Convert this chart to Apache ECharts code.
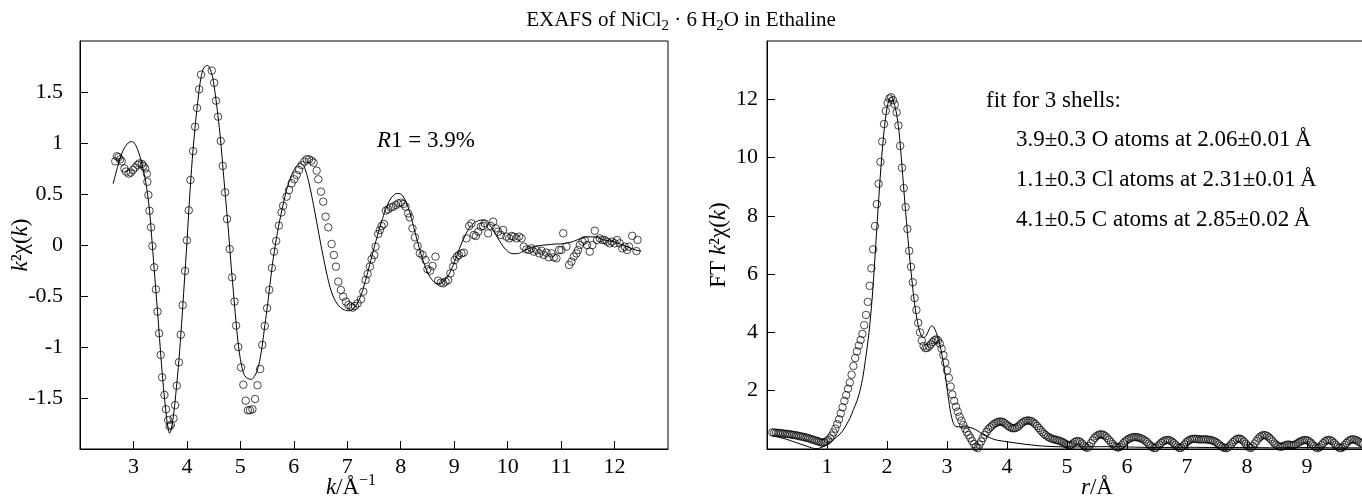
<!DOCTYPE html>
<html><head><meta charset="utf-8">
<script src="https://cdn.jsdelivr.net/npm/echarts@6/dist/echarts.min.js"></script>
<style>html,body{margin:0;padding:0;background:#fff}#c{width:1362px;height:499px}</style>
</head><body><div id="c"></div>
<script>
// ---- data ----
const kData = [[2.66,0.82],[2.69,0.87],[2.72,0.86],[2.75,0.84],[2.78,0.82],[2.83,0.75],[2.86,0.72],[2.91,0.70],[2.95,0.71],[2.99,0.735],[3.03,0.76],[3.075,0.785],[3.11,0.80],[3.157,0.794],[3.187,0.775],[3.22,0.75],[3.25,0.70],[3.26,0.62],[3.28,0.49],[3.30,0.336],[3.33,0.173],[3.355,-0.01],[3.387,-0.219],[3.42,-0.435],[3.45,-0.653],[3.48,-0.866],[3.51,-1.078],[3.536,-1.297],[3.58,-1.47],[3.61,-1.61],[3.65,-1.716],[3.675,-1.775],[3.70,-1.765],[3.75,-1.70],[3.78,-1.57],[3.81,-1.38],[3.85,-1.15],[3.886,-0.88],[3.92,-0.59],[3.966,-0.255],[4.0,0.046],[4.035,0.34],[4.066,0.637],[4.116,0.92],[4.153,1.16],[4.19,1.343],[4.23,1.526],[4.265,1.67],[4.465,1.71],[4.51,1.59],[4.545,1.415],[4.583,1.258],[4.633,1.02],[4.67,0.775],[4.714,0.516],[4.75,0.255],[4.80,-0.04],[4.845,-0.317],[4.89,-0.555],[4.92,-0.79],[4.96,-1.0],[5.013,-1.20],[5.056,-1.37],[5.10,-1.526],[5.14,-1.62],[5.18,-1.62],[5.225,-1.61],[5.275,-1.51],[5.32,-1.375],[5.37,-1.216],[5.41,-0.98],[5.456,-0.794],[5.50,-0.62],[5.54,-0.44],[5.59,-0.225],[5.63,-0.065],[5.67,0.04],[5.72,0.19],[5.77,0.32],[5.80,0.385],[5.866,0.474],[5.91,0.539],[5.96,0.605],[6.01,0.644],[6.053,0.686],[6.097,0.735],[6.147,0.784],[6.196,0.817],[6.24,0.84],[6.284,0.84],[6.33,0.827],[6.37,0.807],[6.427,0.729],[6.458,0.644],[6.508,0.523],[6.55,0.425],[6.595,0.278],[6.645,0.173],[6.707,0.01],[6.75,-0.098],[6.788,-0.212],[6.832,-0.359],[6.88,-0.441],[6.925,-0.506],[6.975,-0.555],[7.02,-0.588],[7.062,-0.604],[7.1,-0.614],[7.143,-0.598],[7.193,-0.572],[7.255,-0.533],[7.3,-0.457],[7.343,-0.343],[7.38,-0.284],[7.424,-0.212],[7.455,-0.14],[7.505,-0.098],[7.53,-0.016],[7.58,0.108],[7.61,0.147],[7.642,0.186],[7.685,0.206],[7.723,0.337],[7.766,0.35],[7.816,0.369],[7.86,0.376],[7.91,0.392],[7.953,0.408],[8.003,0.415],[8.047,0.402],[8.09,0.376],[8.14,0.31],[8.17,0.271],[8.22,0.163],[8.265,0.075],[8.315,-0.01],[8.358,-0.082],[8.408,-0.098],[8.464,-0.147],[8.5,-0.238],[8.55,-0.252],[8.595,-0.206],[8.65,-0.114],[8.7,-0.35],[8.75,-0.37],[8.795,-0.376],[8.838,-0.359],[8.888,-0.343],[8.93,-0.278],[8.98,-0.212],[9.01,-0.147],[9.05,-0.114],[9.087,-0.098],[9.137,-0.082],[9.18,-0.075],[9.23,0.065],[9.28,0.186],[9.325,0.212],[9.368,0.098],[9.405,0.088],[9.45,0.131],[9.5,0.18],[9.542,0.186],[9.573,0.212],[9.635,0.114],[9.685,0.186],[9.73,0.229],[9.78,0.163],[9.823,0.131],[9.873,0.098],[9.916,0.147],[9.978,0.082],[10.03,0.065],[10.072,0.088],[10.115,0.082],[10.165,0.065],[10.215,0.082],[10.26,0.065],[10.302,-0.016],[10.35,-0.042],[10.4,-0.049],[10.446,-0.033],[10.49,-0.065],[10.54,-0.049],[10.59,-0.082],[10.633,-0.056],[10.676,-0.098],[10.726,-0.075],[10.77,-0.121],[10.82,-0.082],[10.863,-0.121],[10.913,-0.13],[10.963,-0.049],[11.006,-0.049],[11.04,0.115],[11.1,-0.016],[11.15,-0.196],[11.193,-0.163],[11.237,-0.114],[11.287,-0.082],[11.318,-0.049],[11.35,0.0],[11.4,0.033],[11.443,0.049],[11.486,0.0],[11.536,-0.065],[11.586,0.0],[11.63,0.14],[11.673,0.049],[11.723,0.065],[11.773,0.049],[11.816,0.049],[11.86,0.033],[11.91,0.016],[11.953,0.033],[12.003,0.016],[12.047,0.049],[12.097,0.016],[12.146,-0.033],[12.19,-0.016],[12.234,-0.049],[12.27,-0.016],[12.33,0.09],[12.41,-0.06],[12.43,0.05]];

const kFit = [[2.62,0.60],[2.70,0.76],[2.80,0.92],[2.90,1.00],[2.98,1.015],[3.05,0.97],[3.12,0.87],[3.20,0.70],[3.25,0.55],[3.30,0.34],[3.35,0.02],[3.40,-0.32],[3.45,-0.65],[3.50,-1.0],[3.55,-1.33],[3.60,-1.60],[3.64,-1.77],[3.675,-1.845],[3.71,-1.80],[3.76,-1.62],[3.80,-1.42],[3.85,-1.13],[3.90,-0.78],[3.95,-0.38],[4.00,0.02],[4.05,0.46],[4.10,0.84],[4.15,1.14],[4.20,1.39],[4.25,1.60],[4.30,1.72],[4.35,1.755],[4.39,1.76],[4.43,1.73],[4.48,1.65],[4.53,1.48],[4.58,1.27],[4.63,1.03],[4.68,0.72],[4.73,0.42],[4.78,0.12],[4.83,-0.22],[4.88,-0.52],[4.93,-0.82],[4.98,-1.05],[5.03,-1.20],[5.08,-1.28],[5.14,-1.31],[5.21,-1.317],[5.26,-1.29],[5.31,-1.24],[5.36,-1.14],[5.41,-0.98],[5.46,-0.78],[5.51,-0.58],[5.56,-0.36],[5.61,-0.15],[5.66,0.02],[5.71,0.17],[5.76,0.30],[5.81,0.42],[5.86,0.53],[5.91,0.62],[5.96,0.69],[6.02,0.75],[6.08,0.79],[6.13,0.80],[6.19,0.77],[6.25,0.68],[6.32,0.52],[6.38,0.36],[6.44,0.19],[6.50,0.02],[6.56,-0.14],[6.62,-0.29],[6.68,-0.42],[6.75,-0.52],[6.83,-0.59],[6.92,-0.63],[7.02,-0.645],[7.10,-0.63],[7.18,-0.58],[7.26,-0.49],[7.34,-0.35],[7.42,-0.19],[7.50,-0.03],[7.58,0.12],[7.66,0.26],[7.74,0.38],[7.82,0.46],[7.90,0.50],[7.97,0.505],[8.04,0.48],[8.10,0.42],[8.17,0.32],[8.24,0.18],[8.31,0.04],[8.38,-0.09],[8.45,-0.20],[8.52,-0.29],[8.60,-0.35],[8.68,-0.38],[8.75,-0.375],[8.82,-0.35],[8.90,-0.29],[8.98,-0.20],[9.06,-0.09],[9.14,0.02],[9.22,0.11],[9.30,0.18],[9.38,0.22],[9.46,0.24],[9.54,0.245],[9.62,0.22],[9.70,0.17],[9.78,0.10],[9.86,0.03],[9.94,-0.03],[10.02,-0.07],[10.10,-0.085],[10.18,-0.085],[10.26,-0.07],[10.34,-0.05],[10.42,-0.03],[10.50,-0.015],[10.60,-0.005],[10.70,0.0],[10.80,0.005],[10.90,0.01],[11.00,0.01],[11.10,0.02],[11.20,0.03],[11.30,0.05],[11.40,0.07],[11.50,0.08],[11.60,0.08],[11.70,0.07],[11.80,0.05],[11.90,0.04],[12.00,0.03],[12.10,0.01],[12.20,-0.01],[12.30,-0.03],[12.40,-0.05],[12.50,-0.06]];

const ftData = [[0.09,0.57],[0.12,0.56],[0.15,0.56],[0.18,0.55],[0.21,0.55],[0.24,0.54],[0.27,0.53],[0.30,0.52],[0.33,0.52],[0.36,0.51],
[0.39,0.50],[0.42,0.49],[0.45,0.48],[0.48,0.47],[0.51,0.46],[0.54,0.44],[0.57,0.43],[0.60,0.42],[0.63,0.40],[0.66,0.39],
[0.69,0.37],[0.72,0.35],[0.75,0.33],[0.78,0.31],[0.81,0.29],[0.84,0.27],[0.87,0.25],[0.90,0.23],[0.93,0.22],[0.96,0.23],
[0.99,0.26],[1.02,0.31],[1.05,0.37],[1.08,0.46],[1.11,0.57],[1.14,0.70],[1.17,0.85],[1.20,1.02],[1.23,1.22],[1.26,1.43],
[1.29,1.65],[1.32,1.85],[1.35,2.07],[1.38,2.28],[1.41,2.55],[1.44,2.85],[1.47,3.12],[1.50,3.35],[1.53,3.55],[1.56,3.74],
[1.59,3.95],[1.62,4.25],[1.65,4.6],[1.68,5.05],[1.71,5.6],[1.74,6.2],[1.77,6.85],[1.80,7.65],[1.83,8.4],[1.86,9.1],
[1.89,9.85],[1.92,10.55],[1.95,11.15],[1.98,11.6],[2.01,11.88],[2.04,12.03],[2.07,12.07],[2.10,11.97],[2.13,11.82],[2.16,11.55],
[2.19,11.1],[2.22,10.4],[2.25,9.65],[2.28,8.95],[2.31,8.3],[2.34,7.55],[2.37,6.8],[2.40,6.25],[2.43,5.72],[2.46,5.18],
[2.49,4.77],[2.52,4.33],[2.55,4.0],[2.58,3.72],[2.61,3.54],[2.64,3.46],[2.67,3.47],[2.70,3.52],[2.73,3.59],[2.76,3.67],
[2.79,3.73],[2.82,3.76],[2.85,3.73],[2.88,3.62],[2.91,3.44],[2.94,3.22],[2.97,2.96],[3.00,2.70],[3.03,2.44],[3.06,2.14],
[3.09,1.87],[3.12,1.65],[3.15,1.45],[3.18,1.28],[3.21,1.11],[3.24,0.97],[3.27,0.83],[3.30,0.70],[3.33,0.58],[3.36,0.48],
[3.39,0.38],[3.42,0.27],[3.45,0.17],[3.48,0.07],[3.51,0.03],[3.54,0.15],[3.57,0.26],[3.60,0.38],[3.63,0.49],[3.66,0.59],
[3.69,0.68],[3.72,0.74],[3.75,0.80],[3.78,0.85],[3.81,0.89],[3.84,0.92],[3.87,0.94],[3.90,0.94],[3.93,0.93],[3.96,0.89],
[3.99,0.84],[4.02,0.79],[4.05,0.75],[4.08,0.72],[4.11,0.71],[4.14,0.72],[4.17,0.75],[4.20,0.80],[4.23,0.86],[4.26,0.91],
[4.29,0.95],[4.32,0.97],[4.35,0.98],[4.38,0.97],[4.41,0.95],[4.44,0.91],[4.47,0.86],[4.50,0.79],[4.53,0.72],[4.56,0.65],
[4.59,0.58],[4.62,0.52],[4.65,0.47],[4.68,0.42],[4.71,0.39],[4.74,0.36],[4.77,0.34],[4.80,0.32],[4.83,0.31],[4.86,0.29],
[4.89,0.27],[4.92,0.24],[4.95,0.21],[4.98,0.17],[5.01,0.14],[5.04,0.12],[5.07,0.14],[5.10,0.19],[5.13,0.24],[5.16,0.27],
[5.19,0.27],[5.22,0.24],[5.25,0.19],[5.28,0.12],[5.31,0.06],[5.34,0.04],[5.37,0.10],[5.40,0.20],[5.43,0.30],[5.46,0.38],
[5.49,0.44],[5.52,0.48],[5.55,0.50],[5.58,0.50],[5.61,0.48],[5.64,0.44],[5.67,0.38],[5.70,0.31],[5.73,0.24],[5.76,0.17],
[5.79,0.11],[5.82,0.07],[5.85,0.05],[5.88,0.07],[5.91,0.13],[5.94,0.20],[5.97,0.26],[6.00,0.31],[6.03,0.35],[6.06,0.38],
[6.09,0.40],[6.12,0.41],[6.15,0.41],[6.18,0.40],[6.21,0.38],[6.24,0.36],[6.27,0.33],[6.30,0.29],[6.33,0.24],[6.36,0.18],
[6.39,0.12],[6.42,0.07],[6.45,0.03],[6.48,0.04],[6.51,0.09],[6.54,0.15],[6.57,0.21],[6.60,0.26],[6.63,0.29],[6.66,0.31],
[6.69,0.31],[6.72,0.29],[6.75,0.25],[6.78,0.20],[6.81,0.14],[6.84,0.08],[6.87,0.04],[6.90,0.04],[6.93,0.09],[6.96,0.16],
[6.99,0.23],[7.02,0.28],[7.05,0.32],[7.08,0.34],[7.11,0.35],[7.14,0.35],[7.17,0.34],[7.20,0.33],[7.23,0.33],[7.26,0.33],
[7.29,0.33],[7.32,0.33],[7.35,0.32],[7.38,0.31],[7.41,0.30],[7.44,0.28],[7.47,0.25],[7.50,0.21],[7.53,0.16],[7.56,0.11],
[7.59,0.07],[7.62,0.04],[7.65,0.03],[7.68,0.05],[7.71,0.10],[7.74,0.17],[7.77,0.24],[7.80,0.30],[7.83,0.34],[7.86,0.36],
[7.89,0.35],[7.92,0.31],[7.95,0.25],[7.98,0.18],[8.01,0.11],[8.04,0.05],[8.07,0.04],[8.10,0.10],[8.13,0.19],[8.16,0.28],
[8.19,0.36],[8.22,0.42],[8.25,0.46],[8.28,0.48],[8.31,0.47],[8.34,0.44],[8.37,0.39],[8.40,0.33],[8.43,0.26],[8.46,0.19],
[8.49,0.14],[8.52,0.10],[8.55,0.08],[8.58,0.08],[8.61,0.10],[8.64,0.13],[8.67,0.15],[8.70,0.15],[8.73,0.14],[8.76,0.13],
[8.79,0.14],[8.82,0.17],[8.85,0.21],[8.88,0.25],[8.91,0.28],[8.94,0.30],[8.97,0.31],[9.00,0.30],[9.03,0.27],[9.06,0.22],
[9.09,0.16],[9.12,0.10],[9.15,0.05],[9.18,0.03],[9.21,0.06],[9.24,0.13],[9.27,0.20],[9.30,0.26],[9.33,0.30],[9.36,0.31],
[9.39,0.30],[9.42,0.27],[9.45,0.21],[9.48,0.14],[9.51,0.08],[9.54,0.04],[9.57,0.03],[9.60,0.07],[9.63,0.14],[9.66,0.21],
[9.69,0.27],[9.72,0.31],[9.75,0.33],[9.78,0.33],[9.81,0.31],[9.84,0.28],[9.87,0.24],[9.90,0.20],[9.93,0.17]];

const ftFit = [[0.09,0.45],[0.20,0.40],[0.30,0.35],[0.40,0.28],[0.50,0.21],[0.60,0.14],[0.70,0.07],[0.78,0.02],[0.84,0.01],[0.90,0.05],[0.96,0.10],[1.02,0.18],[1.08,0.27],[1.14,0.38],[1.20,0.48],[1.26,0.62],[1.32,0.82],[1.38,1.05],[1.44,1.35],[1.50,1.65],[1.55,2.0],[1.60,2.5],[1.65,3.2],[1.70,4.0],[1.75,5.1],[1.80,6.6],[1.85,8.2],[1.90,9.7],[1.95,10.9],[2.00,11.7],[2.04,12.02],[2.07,12.08],[2.10,11.98],[2.15,11.6],[2.20,10.9],[2.25,9.7],[2.30,8.4],[2.35,7.2],[2.40,6.1],[2.45,5.15],[2.50,4.45],[2.55,4.0],[2.60,3.82],[2.65,3.88],[2.70,4.1],[2.74,4.22],[2.78,4.18],[2.82,4.0],[2.86,3.75],[2.90,3.4],[2.94,2.95],[2.98,2.4],[3.02,1.8],[3.06,1.25],[3.10,0.92],[3.14,0.78],[3.20,0.76],[3.30,0.76],[3.40,0.73],[3.50,0.64],[3.60,0.50],[3.70,0.40],[3.80,0.32],[3.90,0.28],[4.00,0.25],[4.20,0.19],[4.40,0.14],[4.60,0.10],[4.80,0.08],[5.00,0.07],[5.30,0.07],[5.60,0.08],[6.00,0.07],[6.50,0.05],[7.00,0.06],[7.50,0.05],[8.00,0.05],[8.50,0.04],[9.00,0.05],[9.50,0.04],[10.0,0.04],[11.0,0.03]];

const titleText = '{a|EXAFS of NiCl}{s|2}{a| \u00b7 6\u2009H}{s|2}{a|O in Ethaline}';
const leftXName = '{i|k}{n|/\u00c5}{sup|\u22121}';
const leftYName = '{i|k}{n|\u00b2\u03c7(}{i|k}{n|)}';
const rightXName = '{i|r}{n|/\u00c5}';
const rightYName = '{n|FT }{i|k}{n|\u00b2\u03c7(}{i|k}{n|)}';
const rText = '{i|R}{n|1 = 3.9%}';
const fitLines = ['fit for 3 shells:',
  '3.9\u00b10.3 O atoms at 2.06\u00b10.01\u2009\u00c5',
  '1.1\u00b10.3 Cl atoms at 2.31\u00b10.01\u2009\u00c5',
  '4.1\u00b10.5 C atoms at 2.85\u00b10.02\u2009\u00c5'];
const rightXHidden = [0, 10, 11];

// ---- chart ----
const FONT = "'Liberation Serif', 'DejaVu Serif', serif";
const richBase = (fs) => ({
  n: {fontFamily: FONT, fontSize: fs, fontWeight: 'normal', color: '#000', lineHeight: fs + 6},
  i: {fontFamily: FONT, fontSize: fs, fontWeight: 'normal', color: '#000', fontStyle: 'italic', lineHeight: fs + 6},
  sup: {fontFamily: FONT, fontSize: Math.round(fs * 0.68), fontWeight: 'normal', color: '#000', verticalAlign: 'top', lineHeight: Math.round(fs * 0.68)}
});
const labelStyle = {fontFamily: FONT, fontSize: 22, color: '#000'};
const axisCommon = {
  axisLine: {show: true, onZero: false, lineStyle: {color: '#000', width: 1}},
  axisTick: {show: true, inside: true, length: 8, lineStyle: {color: '#000', width: 1}},
  splitLine: {show: false},
  axisLabel: Object.assign({showMinLabel: false, showMaxLabel: false}, labelStyle),
  nameLocation: 'middle',
  nameMoveOverlap: false
};
const chart = echarts.init(document.getElementById('c'), null, {renderer: 'canvas'});
const opt = {
  backgroundColor: '#fff',
  animation: false,
  title: {
    text: titleText, left: 'center', top: 2,
    textStyle: {fontWeight: 'normal', rich: {
      a: {fontFamily: FONT, fontSize: 21, fontWeight: 'normal', color: '#000', lineHeight: 27},
      s: {fontFamily: FONT, fontSize: 15, fontWeight: 'normal', color: '#000', lineHeight: 15, verticalAlign: 'bottom'}
    }}
  },
  grid: [
    {left: 80, top: 41, width: 588, height: 408, show: true, borderColor: '#000', borderWidth: 1, backgroundColor: 'transparent', outerBoundsMode: 'none', containLabel: false},
    {left: 767, top: 41, width: 660, height: 408, show: true, borderColor: '#000', borderWidth: 1, backgroundColor: 'transparent', outerBoundsMode: 'none', containLabel: false}
  ],
  xAxis: [
    Object.assign({}, axisCommon, {gridIndex: 0, type: 'value', min: 2, max: 13, interval: 1,
      axisLabel: Object.assign({}, axisCommon.axisLabel, {margin: 7}),
      name: leftXName, nameGap: 24,
      nameTextStyle: {rich: richBase(23), padding: [0, 46, 0, 0]}}),
    Object.assign({}, axisCommon, {gridIndex: 1, type: 'value', min: 0, max: 11, interval: 1,
      axisLabel: Object.assign({}, axisCommon.axisLabel, {margin: 7,
        formatter: (v) => rightXHidden.indexOf(v) >= 0 ? '' : String(v)}),
      name: rightXName, nameGap: 24,
      nameTextStyle: {rich: richBase(23)}})
  ],
  yAxis: [
    Object.assign({}, axisCommon, {gridIndex: 0, type: 'value', min: -2, max: 2, interval: 0.5,
      axisLabel: Object.assign({}, axisCommon.axisLabel, {margin: 17}),
      name: leftYName, nameGap: 45,
      nameTextStyle: {rich: richBase(23)}}),
    Object.assign({}, axisCommon, {gridIndex: 1, type: 'value', min: 0, max: 14, interval: 2,
      axisLabel: Object.assign({}, axisCommon.axisLabel, {margin: 9}),
      name: rightYName, nameGap: 34,
      nameTextStyle: {rich: richBase(23)}})
  ],
  series: [
    {type: 'line', xAxisIndex: 0, yAxisIndex: 0, data: kFit, showSymbol: false, smooth: 0.3,
      lineStyle: {color: '#000', width: 1}, z: 2},
    {type: 'scatter', xAxisIndex: 0, yAxisIndex: 0, data: kData, symbol: 'circle', symbolSize: 7.5,
      itemStyle: {color: 'rgba(0,0,0,0)', borderColor: '#000', borderWidth: 0.9}, z: 3},
    {type: 'line', xAxisIndex: 1, yAxisIndex: 1, data: ftFit, showSymbol: false, smooth: 0.3,
      lineStyle: {color: '#000', width: 1}, z: 2},
    {type: 'scatter', xAxisIndex: 1, yAxisIndex: 1, data: ftData, symbol: 'circle', symbolSize: 7.5,
      itemStyle: {color: 'rgba(0,0,0,0)', borderColor: '#000', borderWidth: 0.9}, z: 3}
  ],
  graphic: [
    {type: 'text', x: 377, y: 141, style: {text: rText, rich: richBase(23), align: 'left', verticalAlign: 'middle'}},
    {type: 'text', x: 986, y: 101, style: {text: fitLines[0], font: '23px ' + FONT, fill: '#000', align: 'left', verticalAlign: 'middle'}},
    {type: 'text', x: 1016, y: 140, style: {text: fitLines[1], font: '23px ' + FONT, fill: '#000', align: 'left', verticalAlign: 'middle'}},
    {type: 'text', x: 1016, y: 180, style: {text: fitLines[2], font: '23px ' + FONT, fill: '#000', align: 'left', verticalAlign: 'middle'}},
    {type: 'text', x: 1016, y: 220, style: {text: fitLines[3], font: '23px ' + FONT, fill: '#000', align: 'left', verticalAlign: 'middle'}}
  ]
};
chart.setOption(opt);
</script>
</body></html>
